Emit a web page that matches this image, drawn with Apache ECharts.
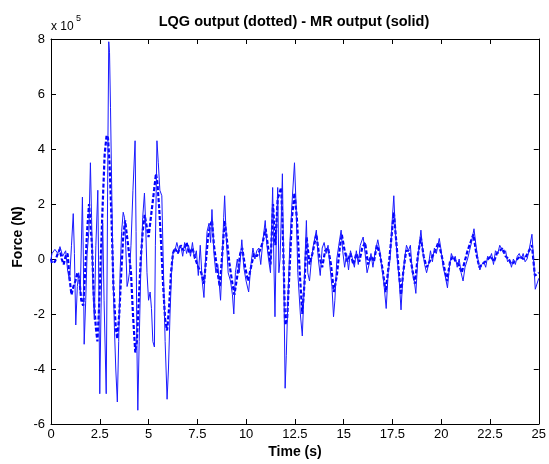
<!DOCTYPE html>
<html>
<head>
<meta charset="utf-8">
<script src="https://cdn.jsdelivr.net/npm/echarts@6/dist/echarts.min.js"></script>
<style>html,body{margin:0;padding:0;background:#fff}#c{width:549px;height:464px}</style>
</head>
<body>
<div id="c"></div>
<script>
var xTicks = [0, 2.5, 5, 7.5, 10, 12.5, 15, 17.5, 20, 22.5, 25];
var yTicks = [-6, -4, -2, 0, 2, 4, 6, 8];

var mrTime = [0.00,0.05,0.20,0.35,0.46,0.60,0.75,0.85,0.95,1.05,
1.14,1.20,1.27,1.35,1.42,1.50,1.61,1.66,1.70,1.78,
1.85,1.94,2.02,2.08,2.15,2.22,2.30,2.40,2.45,2.50,
2.56,2.65,2.72,2.83,2.88,2.92,2.96,3.00,3.05,3.12,
3.18,3.25,3.32,3.40,3.47,3.54,3.62,3.70,3.77,3.83,
3.90,3.96,4.02,4.10,4.20,4.31,4.36,4.40,4.45,4.52,
4.60,4.70,4.79,4.85,4.92,5.00,5.08,5.15,5.22,5.30,
5.35,5.43,5.50,5.58,5.68,5.75,5.85,5.95,6.02,6.10,
6.18,6.25,6.35,6.45,6.55,6.65,6.75,6.85,6.95,7.05,
7.15,7.25,7.35,7.45,7.55,7.65,7.75,7.84,7.92,8.00,
8.10,8.18,8.25,8.35,8.45,8.55,8.69,8.78,8.85,8.90,
8.98,9.08,9.20,9.30,9.37,9.45,9.55,9.65,9.78,9.88,
10.00,10.13,10.25,10.35,10.45,10.55,10.65,10.75,10.85,10.98,
11.05,11.15,11.25,11.36,11.42,11.48,11.54,11.62,11.68,11.74,
11.82,11.86,11.92,12.00,12.06,12.14,12.24,12.35,12.48,12.56,
12.65,12.78,12.88,12.95,13.02,13.09,13.16,13.25,13.35,13.45,
13.60,13.70,13.80,13.90,14.00,14.10,14.20,14.30,14.40,14.48,
14.55,14.65,14.75,14.87,14.95,15.05,15.15,15.25,15.35,15.45,
15.55,15.65,15.75,15.85,16.00,16.10,16.20,16.30,16.40,16.50,
16.60,16.75,16.85,16.95,17.05,17.18,17.28,17.38,17.48,17.57,
17.65,17.75,17.85,17.94,18.02,18.12,18.22,18.32,18.42,18.52,
18.62,18.70,18.80,18.96,19.05,19.15,19.25,19.35,19.45,19.55,
19.65,19.75,19.90,20.00,20.10,20.20,20.32,20.42,20.52,20.62,
20.72,20.82,20.92,21.02,21.12,21.22,21.35,21.45,21.55,21.68,
21.78,21.88,21.98,22.08,22.18,22.28,22.38,22.48,22.58,22.68,
22.78,22.90,23.00,23.10,23.20,23.30,23.40,23.50,23.60,23.70,
23.80,23.90,24.00,24.10,24.20,24.30,24.40,24.50,24.65,24.75,
24.82,25.00];
var mrForce = [0.0,0.2,0.35,0.2,0.45,0.1,0.3,-0.4,-0.8,0.5,
1.65,0.2,-2.4,-1.0,-0.5,-1.2,2.25,0.0,-3.1,-1.5,
0.2,1.0,3.5,1.5,-1.0,-2.2,0.5,2.5,-1.0,-4.9,
-2.0,1.3,-1.5,-4.9,0.0,4.5,7.9,7.5,5.5,2.2,
-0.5,-2.5,-4.0,-5.2,-3.0,-0.5,1.0,1.7,1.5,0.5,
-1.0,-0.8,-0.5,0.5,2.5,4.3,1.0,-3.0,-5.5,-3.0,
-0.5,1.5,2.4,1.3,-0.5,-1.5,-1.2,-1.8,-3.0,-3.2,
0.5,4.3,3.5,2.5,2.3,0.0,-3.0,-5.1,-4.0,-2.0,
-0.5,0.2,0.3,0.6,0.3,0.5,0.1,0.6,0.2,0.5,
0.1,0.6,0.0,0.3,-0.6,0.5,-0.8,-1.4,0.0,1.0,
1.3,0.6,1.8,0.2,-0.5,-0.2,-1.5,0.0,1.5,2.3,
0.8,-0.5,-0.8,-1.3,-2.0,-0.5,0.0,-0.5,0.7,-0.3,
-0.8,-1.2,-0.2,0.4,0.0,0.3,0.4,-0.2,0.6,1.4,
0.6,0.0,-0.5,2.6,0.0,-2.1,0.5,2.6,-0.5,0.0,
2.0,3.1,0.0,-4.7,-3.5,-1.5,0.5,2.0,3.5,2.0,
-0.5,-2.0,-2.8,-1.5,0.0,1.4,-0.5,-0.8,0.0,0.5,
1.05,0.0,-0.6,0.4,0.6,0.2,0.5,-0.3,-1.0,-2.1,
-1.5,0.0,0.5,1.05,0.3,-0.3,0.2,-0.4,0.3,0.0,
-0.3,0.3,-0.2,0.5,0.8,0.2,-0.5,-0.2,0.2,-0.3,
0.2,0.7,0.3,-0.3,-0.8,-1.8,-0.5,0.0,1.3,2.3,
1.0,0.0,-0.8,-1.85,-0.8,0.0,0.5,0.3,0.5,-0.5,
-0.8,-1.25,0.0,1.05,0.3,-0.2,-0.5,-0.2,0.3,-0.1,
0.4,0.2,0.75,0.3,-0.3,-0.6,-1.05,-0.3,0.2,0.0,
0.1,-0.3,0.0,-0.5,-0.8,-0.3,0.0,0.3,0.6,1.1,
0.5,0.0,-0.4,-0.2,-0.1,-0.3,0.1,0.0,0.2,-0.2,
0.3,0.2,0.5,0.55,0.2,0.3,-0.1,0.0,-0.3,0.0,
-0.2,0.1,0.2,0.0,0.2,-0.1,0.0,0.3,0.9,-0.2,
-1.1,-0.7];

var lqgTime = [0.00,0.05,0.20,0.35,0.45,0.55,0.65,0.75,0.85,0.95,
1.05,1.15,1.25,1.35,1.45,1.55,1.65,1.75,1.85,1.95,
2.02,2.10,2.20,2.30,2.38,2.45,2.55,2.65,2.75,2.85,
2.92,3.00,3.10,3.20,3.32,3.40,3.50,3.60,3.70,3.80,
3.90,4.00,4.10,4.20,4.32,4.40,4.50,4.60,4.70,4.80,
4.90,5.00,5.10,5.20,5.30,5.38,5.45,5.55,5.65,5.75,
5.85,5.95,6.05,6.15,6.25,6.35,6.50,6.65,6.80,6.95,
7.10,7.25,7.40,7.55,7.70,7.84,7.95,8.05,8.15,8.25,
8.35,8.50,8.65,8.78,8.90,9.00,9.15,9.30,9.40,9.55,
9.70,9.80,9.95,10.10,10.25,10.40,10.55,10.70,10.85,11.00,
11.15,11.25,11.38,11.50,11.62,11.80,11.90,12.00,12.10,12.22,
12.35,12.48,12.60,12.75,12.88,13.00,13.10,13.25,13.40,13.60,
13.75,13.90,14.05,14.20,14.35,14.50,14.65,14.80,14.90,15.05,
15.20,15.35,15.50,15.65,15.80,15.95,16.10,16.25,16.40,16.55,
16.70,16.85,17.00,17.15,17.30,17.45,17.57,17.70,17.82,17.94,
18.05,18.20,18.35,18.50,18.65,18.80,18.95,19.10,19.25,19.40,
19.55,19.70,19.85,20.00,20.15,20.30,20.45,20.60,20.75,20.90,
21.05,21.20,21.35,21.50,21.65,21.80,21.95,22.10,22.25,22.40,
22.55,22.70,22.85,23.00,23.15,23.30,23.45,23.60,23.75,23.90,
24.05,24.20,24.35,24.50,24.65,24.80,25.00];
var lqgForce = [0.0,-0.15,-0.1,0.2,0.35,0.0,-0.2,0.1,0.2,-0.7,
-1.3,-1.0,-0.8,-0.5,-0.7,-1.5,-1.7,-0.5,1.0,2.0,
2.0,0.5,-1.5,-2.5,-3.0,-2.0,0.0,2.0,3.8,4.5,
4.4,3.5,1.5,-1.0,-2.5,-2.9,-2.0,-0.5,0.8,1.4,
0.8,0.2,-0.5,-2.0,-3.4,-3.0,-1.5,0.0,1.0,1.6,
1.2,0.8,1.4,2.0,2.6,3.1,2.8,1.8,0.5,-1.0,
-2.2,-2.6,-1.8,-0.5,0.2,0.4,0.2,0.5,0.3,0.6,
0.2,0.4,0.0,-0.3,-0.5,-0.9,0.0,0.8,1.2,1.4,
0.5,-0.3,-1.0,0.2,1.4,0.8,-0.2,-0.9,-1.3,-0.6,
0.2,0.4,-0.3,-0.8,-0.3,0.2,0.1,0.3,0.6,1.1,
0.3,-0.2,2.0,0.5,2.2,2.6,0.5,-2.4,-2.2,-0.5,
1.5,2.4,1.5,-0.5,-2.0,-0.8,0.8,-0.2,0.2,0.9,
0.1,-0.3,0.3,0.4,-0.2,-1.2,-0.6,0.4,0.9,0.3,
-0.1,0.2,-0.2,0.2,-0.1,0.4,0.6,-0.2,0.1,-0.1,
0.5,0.2,-0.4,-1.2,-0.3,0.8,1.7,0.6,-0.4,-1.3,
-0.5,0.3,0.3,-0.3,-0.9,0.1,0.8,0.1,-0.3,-0.1,
0.1,0.3,0.6,0.2,-0.3,-0.8,-0.1,0.1,-0.1,-0.2,
-0.5,-0.1,0.3,0.6,0.9,0.2,-0.3,-0.2,-0.1,0.0,
0.1,-0.1,0.2,0.3,0.4,0.1,0.0,-0.2,-0.1,0.0,
0.1,0.0,0.1,0.3,0.5,-0.6,-0.5];

function zip(t, v) { var o = []; for (var i = 0; i < t.length; i++) o.push([t[i], v[i]]); return o; }

var chart = echarts.init(document.getElementById('c'), null, {renderer: 'canvas'});
var FONT = 'Liberation Sans, Arial, sans-serif';
function axisCommon() {
  return {
    axisLine: {show: true, onZero: false, lineStyle: {color: '#000', width: 1}},
    axisTick: {show: true, inside: true, length: 5, lineStyle: {color: '#000'}},
    splitLine: {show: false}
  };
}
chart.setOption({
  animation: false,
  backgroundColor: '#fff',
  grid: {left: 51, right: 8, top: 39, bottom: 40, containLabel: false},
  xAxis: [
    Object.assign({type: 'value', position: 'bottom', min: 0, max: 25, interval: 2.5,
      axisLabel: {color: '#000', fontSize: 13, fontFamily: FONT, margin: 4,
        formatter: function (v) { return xTicks.indexOf(v) >= 0 ? String(v) : ''; }}}, axisCommon()),
    Object.assign({type: 'value', position: 'top', min: 0, max: 25, interval: 2.5,
      axisLabel: {show: false}}, axisCommon())
  ],
  yAxis: [
    Object.assign({type: 'value', position: 'left', min: -6, max: 8, interval: 2,
      axisLabel: {color: '#000', fontSize: 13, fontFamily: FONT, margin: 6,
        formatter: function (v) { return yTicks.indexOf(v) >= 0 ? String(v) : ''; }}}, axisCommon()),
    Object.assign({type: 'value', position: 'right', min: -6, max: 8, interval: 2,
      axisLabel: {show: false}}, axisCommon())
  ],
  series: [
    {name: 'MR output', type: 'line', data: zip(mrTime, mrForce), showSymbol: false, symbol: 'none',
      lineStyle: {color: '#1a1aff', width: 1}, z: 3},
    {name: 'LQG output', type: 'line', data: zip(lqgTime, lqgForce), showSymbol: false, symbol: 'none',
      lineStyle: {color: '#0000ff', width: 2.2, type: [4, 2]}, z: 2}
  ],
  graphic: [
    {type: 'text', x: 294, y: 22, style: {text: 'LQG output (dotted) - MR output (solid)', fill: '#000', font: 'bold 14.5px ' + FONT, textAlign: 'center', textVerticalAlign: 'middle'}},
    {type: 'text', x: 51, y: 27, style: {text: 'x 10', fill: '#000', font: '12px ' + FONT, textVerticalAlign: 'middle'}},
    {type: 'text', x: 76, y: 19, style: {text: '5', fill: '#000', font: '9px ' + FONT, textVerticalAlign: 'middle'}},
    {type: 'text', x: 295, y: 452, style: {text: 'Time (s)', fill: '#000', font: 'bold 14px ' + FONT, textAlign: 'center', textVerticalAlign: 'middle'}},
    {type: 'text', x: 18, y: 237, rotation: Math.PI / 2, style: {text: 'Force (N)', fill: '#000', font: 'bold 14px ' + FONT, textAlign: 'center', textVerticalAlign: 'middle'}}
  ]
});
</script>
</body>
</html>
